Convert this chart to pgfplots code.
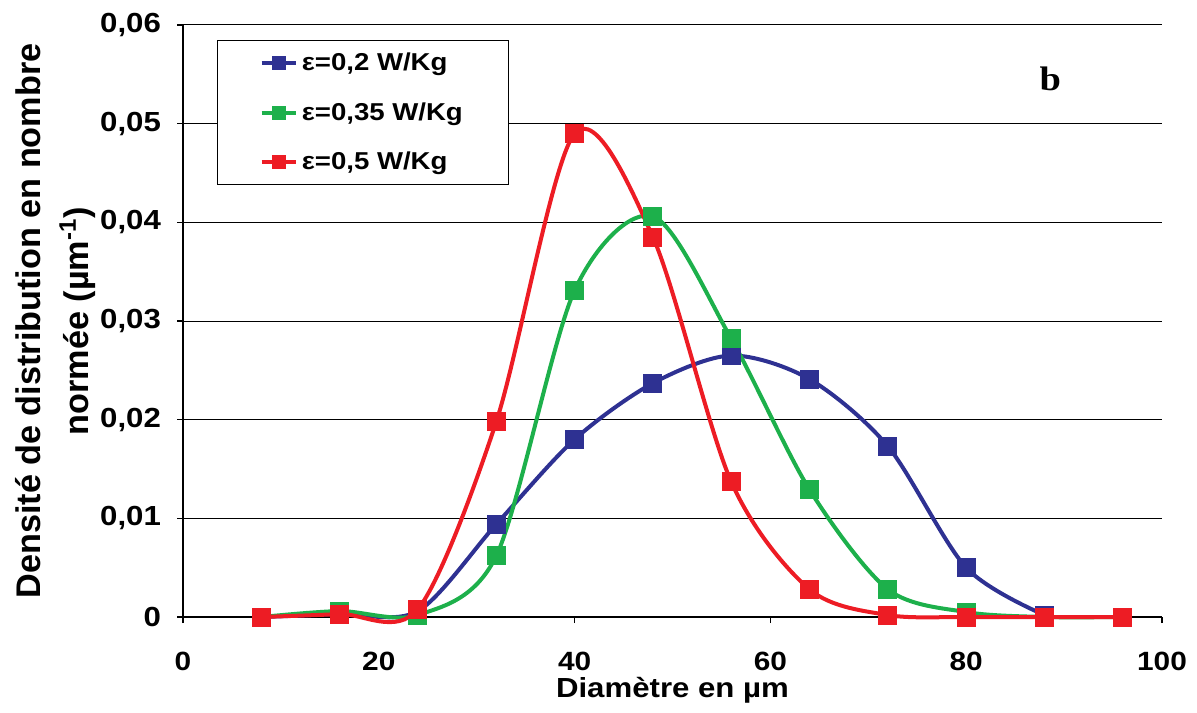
\documentclass[border=0pt]{standalone}
\usepackage{pgfplots}
\pgfplotsset{compat=1.18}
\usepackage{fontspec}
\setmainfont{Liberation Sans}
\newfontfamily\serifb{Liberation Serif}
\definecolor{cblue}{RGB}{46,49,146}
\definecolor{cgreen}{RGB}{29,176,75}
\definecolor{cred}{RGB}{237,28,36}
\newcommand{\sx}[1]{\scalebox{1.13}[1]{#1}}
\begin{document}
\begin{tikzpicture}
\begin{axis}[
  scale only axis,
  width=489.5pt, height=296pt,
  xmin=0, xmax=100, ymin=0, ymax=0.06,
  axis x line*=bottom, axis y line*=left,
  axis line style={line width=1pt, black},
  xtick={0,20,...,100},
  xticklabels={\sx{0},\sx{20},\sx{40},\sx{60},\sx{80},\sx{100}},
  ytick={0,0.01,...,0.06},
  scaled y ticks=false,
  yticklabels={\sx{0},\sx{0,01},\sx{0,02},\sx{0,03},\sx{0,04},\sx{0,05},\sx{0,06}},
  tick align=outside,
  major tick length=3pt,
  tick style={black, line width=0.6pt},
  ymajorgrids,
  grid style={black, line width=0.5pt},
  clip=false,
  /pgf/number format/assume math mode=true,
  yticklabel style={font=\bfseries\fontsize{13.8}{15}\selectfont, xshift=-4.5pt},
  xticklabel style={font=\bfseries\fontsize{13.2}{15}\selectfont, yshift=-11pt},
  xlabel={\sx{Diamètre en µm}},
  xlabel style={font=\bfseries\fontsize{13.8}{16}\selectfont, at={(axis description cs:0.5,0)}, anchor=north, inner sep=0pt, yshift=-30pt},
  ylabel={Densité de distribution en nombre\\normée (µm\textsuperscript{-1})},
  ylabel style={font=\bfseries\fontsize{17.1}{24}\selectfont, align=center, inner sep=0pt,
    at={([xshift=-84pt]axis description cs:0,0.5)}, anchor=north, rotate=0},
  legend style={at={([xshift=17pt,yshift=-7.5pt]axis description cs:0,1)}, anchor=north west, draw=black, line width=0.7pt,
    font=\bfseries\fontsize{12.2}{14}\selectfont, inner xsep=21pt, inner ysep=4pt,
    row sep=10.5pt},
  legend cell align=left,
  legend image post style={mark size=3.3pt},
  every axis plot/.append style={line width=2pt, smooth, mark=square*, mark size=4.5pt},
]
\addplot[cblue, mark options={fill=cblue, line width=0pt}] coordinates {
 (8,0) (16,0.0003) (24,0.0006) (32,0.0094) (40,0.0180) (48,0.0237) (56,0.0265) (64,0.0241) (72,0.0173) (80,0.0050) (88,0.0002)};
\addlegendentry{\sx{ε=0,2 W/Kg}}
\addplot[cgreen, mark options={fill=cgreen, line width=0pt}] coordinates {
 (8,0) (16,0.0006) (24,0.0002) (32,0.0062) (40,0.0331) (48,0.0406) (56,0.0282) (64,0.0129) (72,0.0028) (80,0.0005) (88,0) (96,0)};
\addlegendentry{\sx{ε=0,35 W/Kg}}
\addplot[cred, mark options={fill=cred, line width=0pt}] coordinates {
 (8,0) (16,0.0003) (24,0.0008) (32,0.0198) (40,0.0490) (48,0.0385) (56,0.0137) (64,0.0028) (72,0.0002) (80,0) (88,0) (96,0)};
\addlegendentry{\sx{ε=0,5 W/Kg}}
\node[font=\serifb\bfseries\fontsize{17}{19}\selectfont] at (axis cs:88.6,0.0545) {\sx{b}};
\path (rel axis cs:0,0) ++(-91.5pt,-47.5pt) coordinate (bl);
\path (rel axis cs:1,1) ++(17.5pt,12.5pt) coordinate (tr);
\end{axis}
\useasboundingbox (bl) rectangle (tr);
\end{tikzpicture}
\end{document}
